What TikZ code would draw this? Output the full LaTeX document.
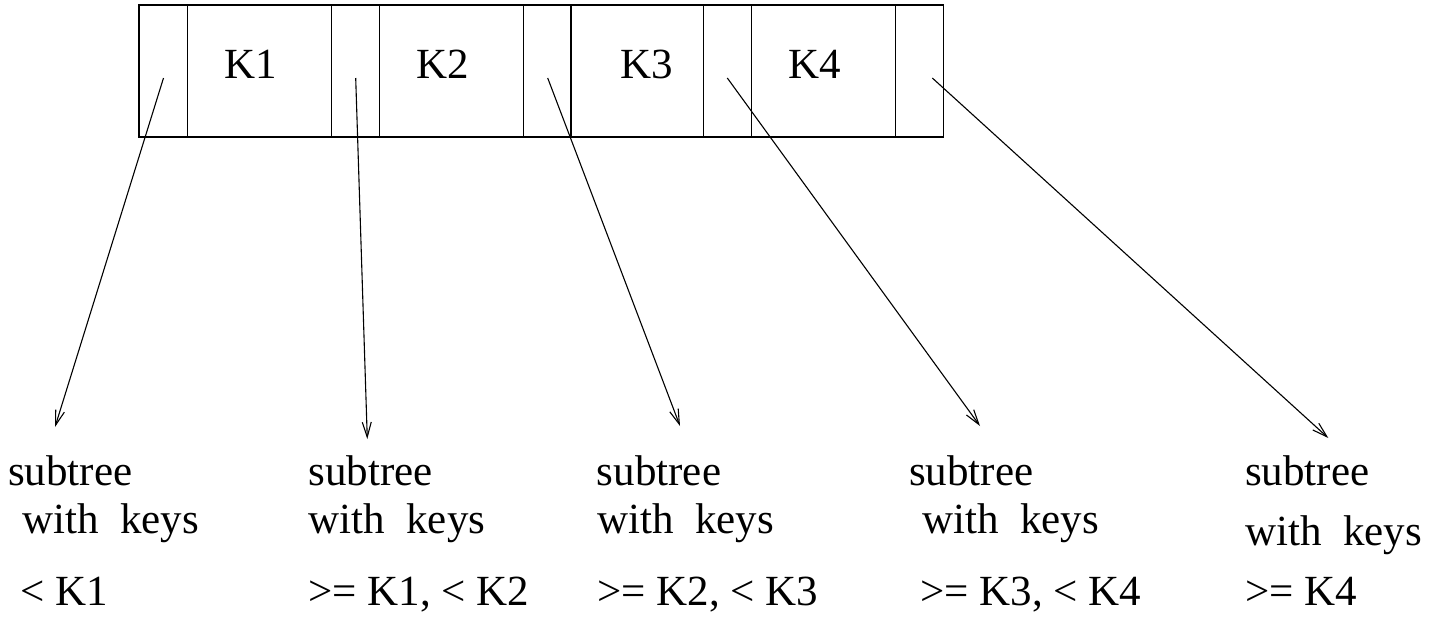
\documentclass[tikz,border=0pt]{standalone}
\usepackage{fontspec}
\setmainfont{Liberation Serif}
\usetikzlibrary{arrows.meta}
\begin{document}
\begin{tikzpicture}[x=1pt,y=-1pt,
  lbl/.style={anchor=base west,inner sep=0pt,font=\fontsize{43}{50}\selectfont},
  ptr/.style={line width=1.1pt,-{Straight Barb[length=15pt,width=9pt,line width=1.1pt]}},
  frame/.style={line width=1.2pt}]
\useasboundingbox (0,0) rectangle (1440,616);
% node record
\draw[frame] (139,5) rectangle (943.3,137);
\foreach \x in {187.3,331.7,379.3,523.3,571,703.7,751.7,895.7}
  \draw[frame] (\x,5) -- (\x,137);
\node[lbl] (k1) at (224.3,78) {K1};
\node[lbl] (k2) at (416,78) {K2};
\node[lbl] (k3) at (620,78) {K3};
\node[lbl] (k4) at (788.3,78) {K4};
% pointer starts and ends
\coordinate (s1) at (163.5,78);
\coordinate (s2) at (355.7,78);
\coordinate (s3) at (547.7,78);
\coordinate (s4) at (727.3,78);
\coordinate (s5) at (932.3,78);
\coordinate (e1) at (55,427);
\coordinate (e2) at (367.3,439);
\coordinate (e3) at (680,426);
\coordinate (e4) at (980,426);
\coordinate (e5) at (1328.3,438);
\foreach \i in {1,...,5} \draw[ptr] (s\i) -- (e\i);
% labels
\node[lbl] (a1) at (8,485) {subtree};
\node[lbl] (b1) at (22,533) {with\hspace{0.5em}keys};
\node[lbl] (c1) at (20,605) {< K1};
\node[lbl] (a2) at (308.3,485) {subtree};
\node[lbl] (b2) at (308.3,533) {with\hspace{0.5em}keys};
\node[lbl] (c2) at (308.3,605) {>= K1, < K2};
\node[lbl] (a3) at (596.7,485) {subtree};
\node[lbl] (b3) at (597,533) {with\hspace{0.5em}keys};
\node[lbl] (c3) at (597,605) {>= K2, < K3};
\node[lbl] (a4) at (909,485) {subtree};
\node[lbl] (b4) at (922,533) {with\hspace{0.5em}keys};
\node[lbl] (c4) at (920,605) {>= K3, < K4};
\node[lbl] (a5) at (1245,485) {subtree};
\node[lbl] (b5) at (1245,545) {with\hspace{0.5em}keys};
\node[lbl] (c5) at (1245,605) {>= K4};
\end{tikzpicture}
\end{document}
